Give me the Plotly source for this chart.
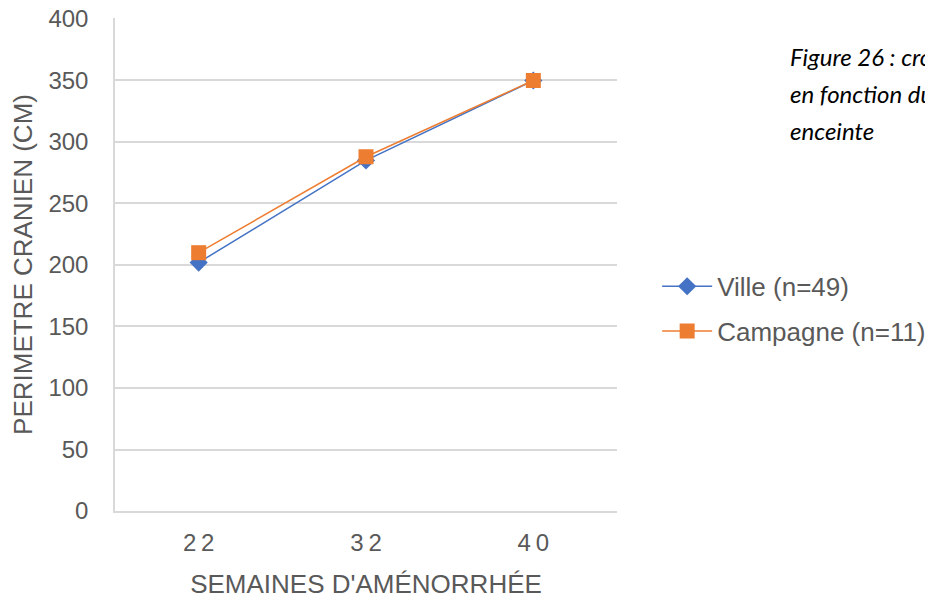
import plotly.graph_objects as go

semaines = ["22", "32", "40"]
ville = [202, 285, 350]
campagne = [210, 288, 350]
y_ticks = [0, 50, 100, 150, 200, 250, 300, 350, 400]

caption_lines = [
    "Figure 26 : croissance du périmètre crânien",
    "en fonction du terme chez la femme",
    "enceinte",
]

GRAY = "#595959"
FONT = "Liberation Sans, Arial, sans-serif"

fig = go.Figure()

fig.add_trace(go.Scatter(
    x=semaines, y=ville, name="Ville (n=49)",
    mode="lines+markers", legendgroup="v",
    line={"color": "#4472c4", "width": 1.5},
    marker={"symbol": "diamond", "size": 14, "color": "#4472c4"},
))
fig.add_trace(go.Scatter(
    x=semaines, y=campagne, name="Campagne (n=11)",
    mode="lines+markers", legendgroup="c",
    line={"color": "#ed7d31", "width": 1.5},
    marker={"symbol": "square", "size": 15, "color": "#ed7d31"},
))

# the page body adds an 8px margin, so the margins are shifted to compensate
fig.update_layout(
    width=933, height=593,
    margin={"l": 107, "r": 324, "t": 10, "b": 90, "autoexpand": False},
    paper_bgcolor="white", plot_bgcolor="white",
    font={"family": FONT, "color": GRAY, "size": 24},
    showlegend=True,
    legend={
        "x": 1.08, "xanchor": "left", "y": 0.41, "yanchor": "middle",
        "font": {"size": 26, "color": GRAY},
        "tracegroupgap": 8, "itemwidth": 50,
        "bgcolor": "rgba(0,0,0,0)",
    },
    xaxis={
        "type": "category",
        "tickvals": semaines,
        "ticktext": ["2\u20092", "3\u20092", "4\u20090"],
        "tickfont": {"size": 24},
        "showgrid": False, "zeroline": False,
        "showline": True, "linecolor": "#d9d9d9", "linewidth": 1.5,
        "ticks": "", "ticklabelstandoff": 9, "automargin": False,
        "title": {"text": "SEMAINES D'AMÉNORRHÉE", "standoff": 20,
                  "font": {"size": 26, "color": GRAY}},
        "range": [-0.5, 2.5],
    },
    yaxis={
        "range": [0, 400.8], "tickvals": y_ticks,
        "tickfont": {"size": 24},
        "ticklabeloverflow": "allow",
        "showgrid": True, "gridcolor": "#d9d9d9", "gridwidth": 1.5,
        "zeroline": False,
        "showline": True, "linecolor": "#d9d9d9", "linewidth": 1.5,
        "ticks": "", "ticklabelstandoff": 20, "automargin": False,
        "title": {"text": "PERIMETRE CRANIEN (CM)", "standoff": 9,
                  "font": {"size": 26, "color": GRAY}},
    },
)

for i, line in enumerate(caption_lines):
    fig.add_annotation(
        xref="paper", yref="paper", x=(788 - 115) / 502, y=(511 - 57 - 37 * i) / 492,
        xanchor="left", yanchor="middle", showarrow=False,
        text=f"<i>{line}</i>",
        font={"family": "Lato, Open Sans, sans-serif", "size": 24, "color": "black"},
    )

fig.write_html("out.html")
